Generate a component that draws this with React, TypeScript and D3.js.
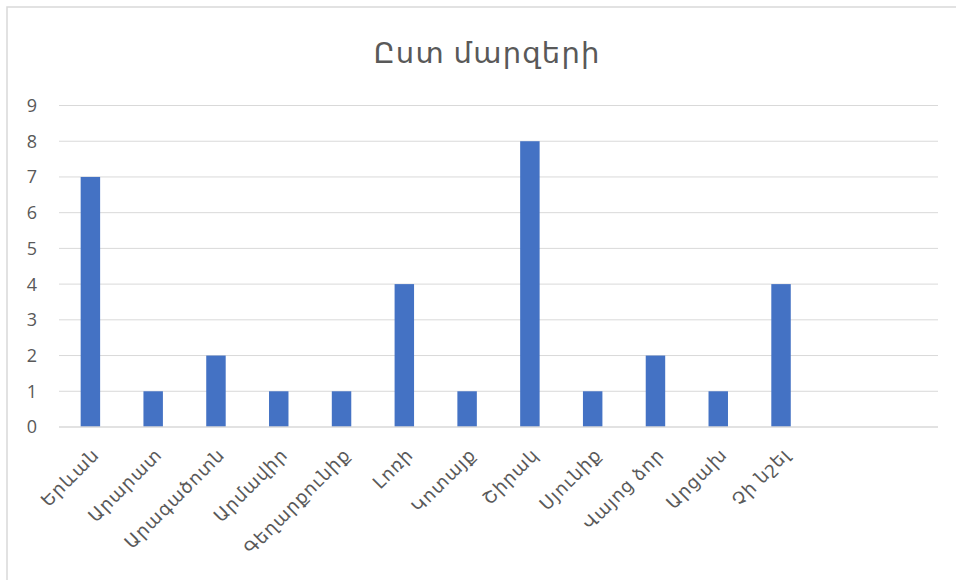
import React, { useEffect, useRef } from "react";
import * as d3 from "d3";

const title = "Ըստ մարզերի";
const regions = [
  "Երևան", "Արարատ", "Արագածոտն", "Արմավիր", "Գեղարքունիք", "Լոռի",
  "Կոտայք", "Շիրակ", "Սյունիք", "Վայոց ձոր", "Արցախ", "Չի նշել",
];
const counts = [7, 1, 2, 1, 1, 4, 1, 8, 1, 2, 1, 4];
const yTicks = [0, 1, 2, 3, 4, 5, 6, 7, 8, 9];
// the category axis has room for 14 slots, the last two stay empty
const slotCount = 14;

const App = () => {
  const container = useRef<SVGSVGElement>(null);

  useEffect(() => {
    const svg = d3.select(container.current);
    svg.selectAll("*").remove();

    const width = 956, height = 580;
    const left = 59, right = 938, top = 105.5, bottom = 427;
    const textColor = "#595959";
    const gridColor = "#d9d9d9";
    const font = "'Open Sans', 'DejaVu Sans', sans-serif";

    svg.append("rect")
      .attr("x", 7).attr("y", 7)
      .attr("width", width).attr("height", height)
      .attr("fill", "#fff")
      .attr("stroke", gridColor)
      .attr("stroke-width", 1.5);

    svg.append("text")
      .attr("x", 487).attr("y", 63)
      .attr("text-anchor", "middle")
      .attr("font-family", font)
      .attr("font-size", 29)
      .attr("letter-spacing", 1.2)
      .attr("fill", textColor)
      .text(title);

    const y = d3.scaleLinear().domain([0, 9]).range([bottom, top]);
    const x = d3.scaleBand<number>()
      .domain(d3.range(slotCount))
      .range([left, right])
      .padding(0);

    svg.append("g")
      .selectAll("line")
      .data(yTicks.filter(d => d > 0))
      .enter()
      .append("line")
      .attr("x1", left).attr("x2", right)
      .attr("y1", d => y(d)).attr("y2", d => y(d))
      .attr("stroke", gridColor)
      .attr("stroke-width", 1);

    svg.append("g")
      .selectAll("text")
      .data(yTicks)
      .enter()
      .append("text")
      .attr("x", 37)
      .attr("y", d => y(d))
      .attr("dy", "0.36em")
      .attr("text-anchor", "end")
      .attr("font-family", font)
      .attr("font-size", 18)
      .attr("fill", textColor)
      .text(d => d);

    const barW = x.bandwidth() * 0.31;
    svg.append("g")
      .selectAll("rect")
      .data(counts)
      .enter()
      .append("rect")
      .attr("x", (d, i) => x(i)! + x.bandwidth() / 2 - barW / 2)
      .attr("y", d => y(d))
      .attr("width", barW)
      .attr("height", d => y(0) - y(d))
      .attr("fill", "#4472c4");

    svg.append("line")
      .attr("x1", left).attr("x2", right)
      .attr("y1", bottom).attr("y2", bottom)
      .attr("stroke", gridColor)
      .attr("stroke-width", 1.5);

    svg.append("g")
      .selectAll("text")
      .data(regions)
      .enter()
      .append("text")
      .attr("transform", (d, i) => `translate(${x(i)! + x.bandwidth() / 2 + 1},${bottom + 20}) rotate(-45)`)
      .attr("dy", "0.7em")
      .attr("text-anchor", "end")
      .attr("font-family", font)
      .attr("font-size", 18)
      .attr("letter-spacing", 1)
      .attr("fill", textColor)
      .text(d => d);
  }, []);

  return (
    <svg ref={container} width={956} height={580}
      style={{ position: "absolute", left: 0, top: 0 }} />
  );
};

export default App;
